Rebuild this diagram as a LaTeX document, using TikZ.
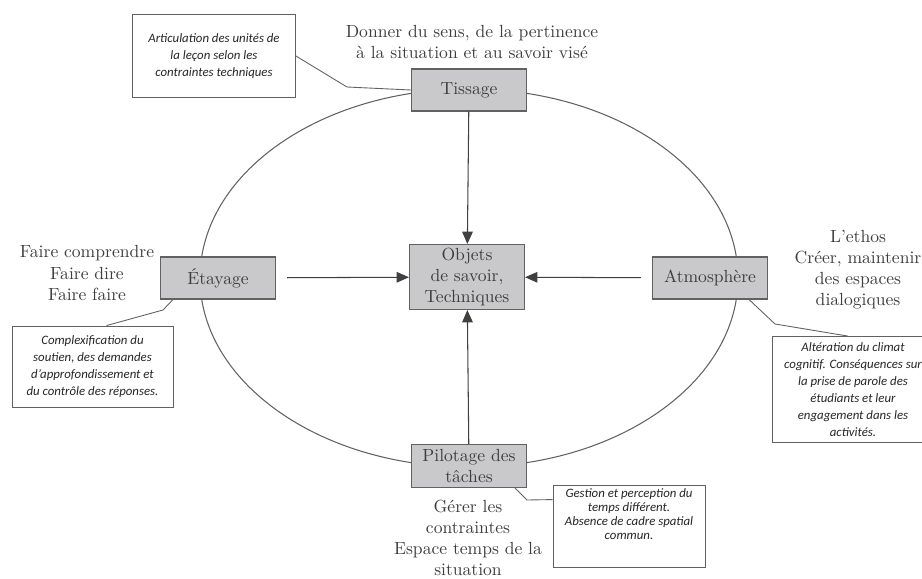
\documentclass[tikz,border=0pt]{standalone}
\usepackage{fontspec}
\usepackage{tikz}
\usetikzlibrary{arrows.meta}
\usetikzlibrary{calc}
\newfontfamily\notefont{Carlito}
\definecolor{trait}{rgb}{0.38, 0.38, 0.38}
\definecolor{texte}{rgb}{0.24, 0.24, 0.24}
\definecolor{fond}{rgb}{0.79, 0.79, 0.80}
\tikzset{
  boite/.style={draw=trait, fill=fond, line width=0.6pt, text=texte, align=center,
    minimum width=2.3cm, minimum height=0.84cm, inner sep=1pt},
  note/.style={draw=trait, fill=white, line width=0.5pt, align=center, text=black!85,
    font=\notefont\itshape\fontsize{7.3}{9.7}\selectfont},
  libre/.style={align=center, text=texte},
  lien/.style={draw=trait, line width=0.5pt},
  fleche/.style={draw=black!75, line width=0.6pt, -{Triangle[length=7pt,width=6pt]}}
}

\begin{document}
\begin{tikzpicture}[x=0.02cm, y=-0.02cm]
        \useasboundingbox (0,0) rectangle (922,578);
        % Tracer l'ellipse
        \draw[trait, line width=0.6pt] (469,278) ellipse [x radius=269, y radius=189];

        % Les cinq boites grises
        \node[boite] (tissage) at (469,90) {Tissage};
        \node[boite, minimum height=1.3cm] (objets) at (467,277) {Objets\\de savoir,\\Techniques};
        \node[boite] (etayage) at (218,278) {\'Etayage};
        \node[boite] (atmo) at (710,278) {Atmosphère};
        \node[boite, minimum height=0.86cm] (pilot) at (469,466) {Pilotage des\\tâches};

        % Les fleches vers le centre
        \draw[fleche] (tissage) -- (objets);
        \draw[fleche] (pilot) -- (objets);
        \draw[fleche, shorten <=0.22cm] (etayage) -- (objets);
        \draw[fleche, shorten <=0.22cm] (atmo) -- (objets);

        % Textes autour
        \node[libre] (sens) at (472,42) {Donner du sens, de la pertinence\\à la situation et au savoir visé};
        \node[libre] (faire) at (87,273) {Faire comprendre\\Faire dire\\Faire faire};
        \node[libre] (ethos) at (858,270) {L’ethos\\Créer, maintenir\\des espaces\\dialogiques};
        \node[libre] (gerer) at (468,538) {Gérer les\\contraintes\\Espace temps de la\\situation};

        % Les notes encadrees
        \node[note, minimum width=3.26cm, minimum height=1.66cm] (tisnote) at (214,56)
            {Articulation des unités de\\la leçon selon les\\contraintes techniques};
        \node[note, minimum width=3.22cm, minimum height=1.62cm] (etnote) at (92.5,366.5)
            {Complexification du\\soutien, des demandes\\d’approfondissement et\\du contrôle des réponses.};
        \node[note, minimum width=3.24cm, minimum height=1.94cm] (atnote) at (853,389.5)
            {Altération du climat\\cognitif. Conséquences sur\\la prise de parole des\\étudiants et leur\\engagement dans les\\activités.};
        \node[note, minimum width=3.04cm, minimum height=1.64cm] (pilnote) at (629,526) {};
        \node[note, draw=none, fill=none, inner sep=1pt, anchor=north,
              font=\notefont\itshape\fontsize{7.3}{7.9}\selectfont] (piltexte) at ($(pilnote.north)+(0,2)$)
            {Gestion et perception du\\temps différent.\\Absence de cadre spatial\\commun.};

        % Liens vers les notes
        \draw[lien] (tisnote.east) -- (347,87) -- (tissage.west);
        \draw[lien] ($(etayage.south west)+(13,0)$) -- (163,310) -- ($(etnote.north)+(14,0)$);
        \draw[lien] ($(atmo.south east)+(-19,0)$) -- (775,324) -- ($(atnote.north)+(-5,0)$);
        \draw[lien] ($(pilot.south east)+(-12,0)$) -- (527,500) -- ($(pilnote.north west)+(0,15)$);
    \end{tikzpicture}
\end{document}
